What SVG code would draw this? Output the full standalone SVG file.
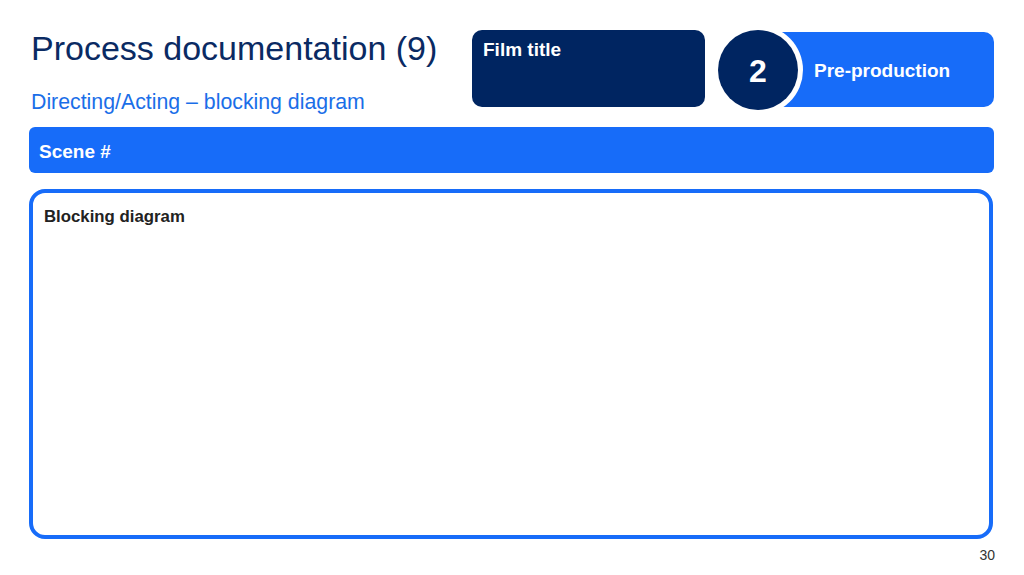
<svg xmlns="http://www.w3.org/2000/svg" width="1024" height="575" viewBox="0 0 1024 575">
<style>
text{font-family:"Liberation Sans",Arial,sans-serif}
.w{fill:#ffffff;font-weight:bold}
</style>
<rect width="1024" height="575" fill="#ffffff"/>
<g id="title">
<text x="31" y="60" font-size="34" fill="#0a2a63">Process documentation (9)</text>
<text x="31" y="109" font-size="21.3" fill="#1a6ee8">Directing/Acting – blocking diagram</text>
</g>
<g id="film-title">
<rect x="472" y="30" width="233" height="77" rx="10" fill="#002561"/>
<text class="w" x="483" y="56" font-size="19">Film title</text>
</g>
<g id="stage">
<rect x="770" y="32" width="224" height="75" rx="10" fill="#176cf9"/>
<circle cx="758" cy="70" r="45" fill="#ffffff"/>
<circle cx="758" cy="70" r="40" fill="#002561"/>
<text class="w" x="758" y="82" font-size="32" text-anchor="middle">2</text>
<text class="w" x="814" y="77" font-size="19">Pre-production</text>
</g>
<g id="scene">
<rect x="29" y="127" width="965" height="46" rx="6" fill="#176cf9"/>
<text class="w" x="39" y="158" font-size="19">Scene #</text>
</g>
<g id="blocking">
<rect x="31" y="191" width="960" height="346" rx="14" fill="#ffffff" stroke="#176cf9" stroke-width="4"/>
<text x="44" y="222" font-size="16.8" font-weight="bold" fill="#222222">Blocking diagram</text>
</g>
<g id="connectors"></g>
<text x="995" y="560" font-size="14" fill="#333333" text-anchor="end">30</text>
</svg>
